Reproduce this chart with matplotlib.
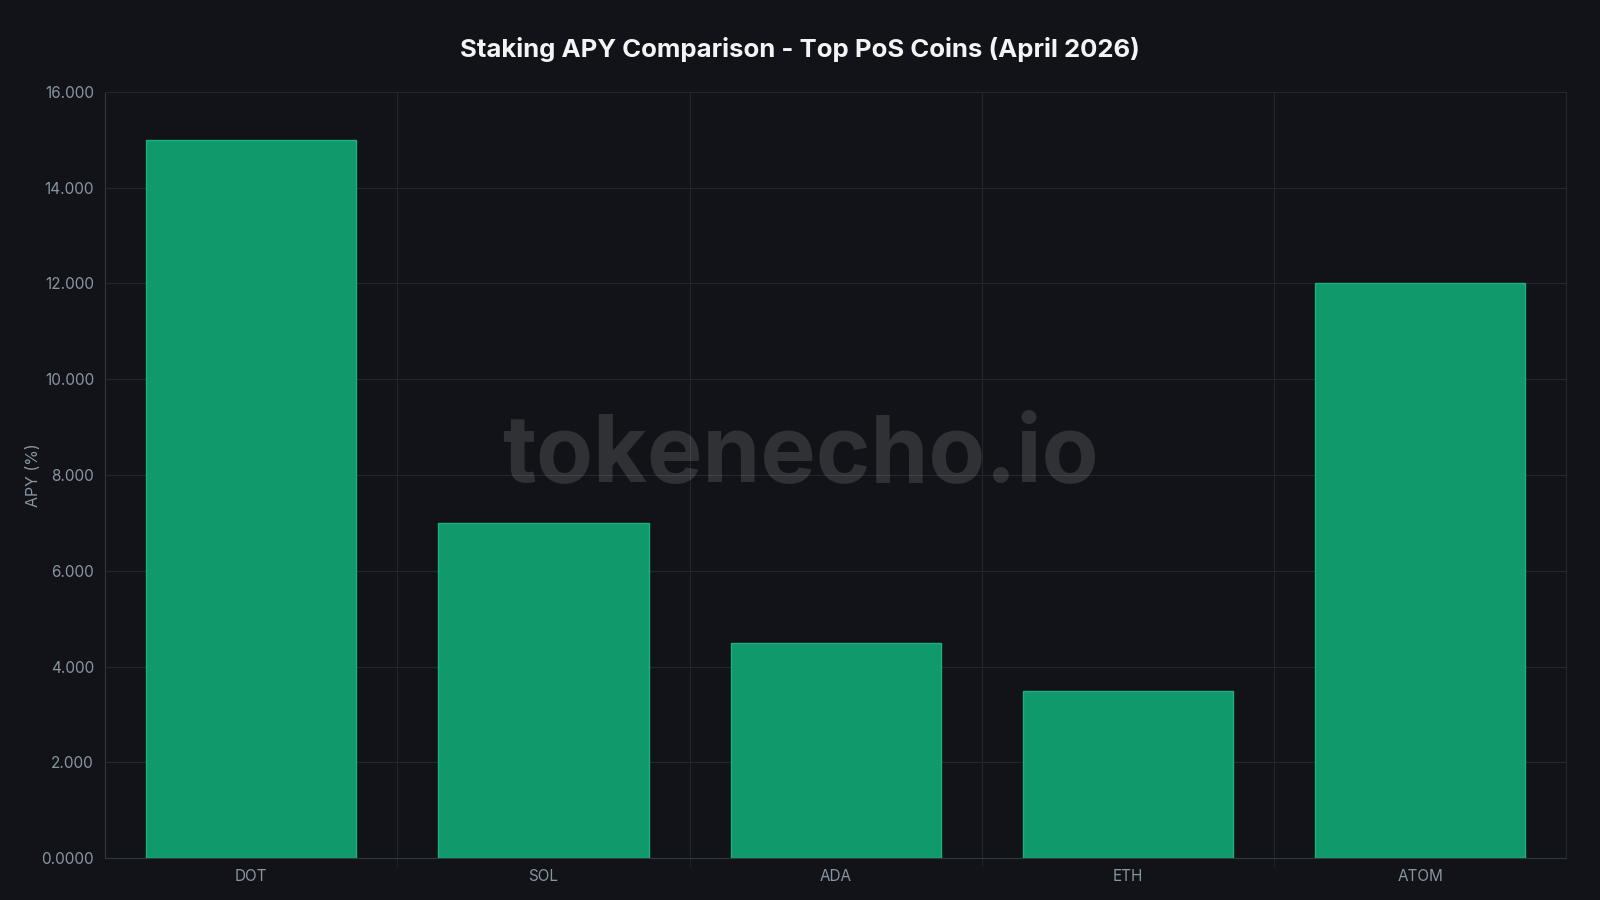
import matplotlib
matplotlib.use("Agg")
import matplotlib.pyplot as plt
from matplotlib.ticker import FuncFormatter

coins = ["DOT", "SOL", "ADA", "ETH", "ATOM"]
apy = [15.0, 7.0, 4.5, 3.5, 12.0]

BG = "#111318"
BAR = "#10996a"
BAR_EDGE = "#1fb07e"
GRID = "#23262c"
TICK = "#8a95a0"

plt.rcParams["font.family"] = ["Inter", "DejaVu Sans"]

fig = plt.figure(figsize=(16, 9), dpi=100, facecolor=BG)
ax = fig.add_axes([0.0657, 0.0465, 0.9133, 0.8515], facecolor=BG)

x = list(range(len(coins)))
ax.bar(x, apy, width=0.72, color=BAR, edgecolor=BAR_EDGE, linewidth=1.0, zorder=3)

ax.set_xlim(-0.5, len(coins) - 0.5)
ax.set_ylim(0, 16)
ax.set_yticks(range(0, 17, 2))
ax.yaxis.set_major_formatter(FuncFormatter(lambda v, _: "0.0000" if v == 0 else f"{v:.3f}"))
ax.set_xticks(x)
ax.set_xticklabels(coins)

ax.set_xticks([i + 0.5 for i in range(len(coins) - 1)], minor=True)
ax.grid(axis="y", which="major", color=GRID, linewidth=0.8, zorder=0)
ax.grid(axis="x", which="minor", color=GRID, linewidth=0.8, zorder=0)
ax.tick_params(axis="both", which="major", colors=TICK, labelsize=11, length=5)
ax.tick_params(axis="x", which="major", length=0, pad=8)
ax.tick_params(axis="x", which="minor", length=6, color=GRID)
ax.tick_params(axis="y", length=0, pad=8)

for s in ("top", "right"):
    ax.spines[s].set_color(GRID)
for s in ("left", "bottom"):
    ax.spines[s].set_color("#2e3a3a")

ax.set_ylabel("APY (%)", color=TICK, fontsize=11.5, labelpad=0)

fig.text(0.5, 0.945, "Staking APY Comparison - Top PoS Coins (April 2026)",
         ha="center", va="center", color="#f2f4f6", fontsize=18.5, fontweight="bold")

fig.text(0.5, 0.492, "tokenecho.io", ha="center", va="center", color="#ffffff",
         alpha=0.13, fontsize=67, fontweight="bold", zorder=10)

fig.savefig("out.png", facecolor=BG)
